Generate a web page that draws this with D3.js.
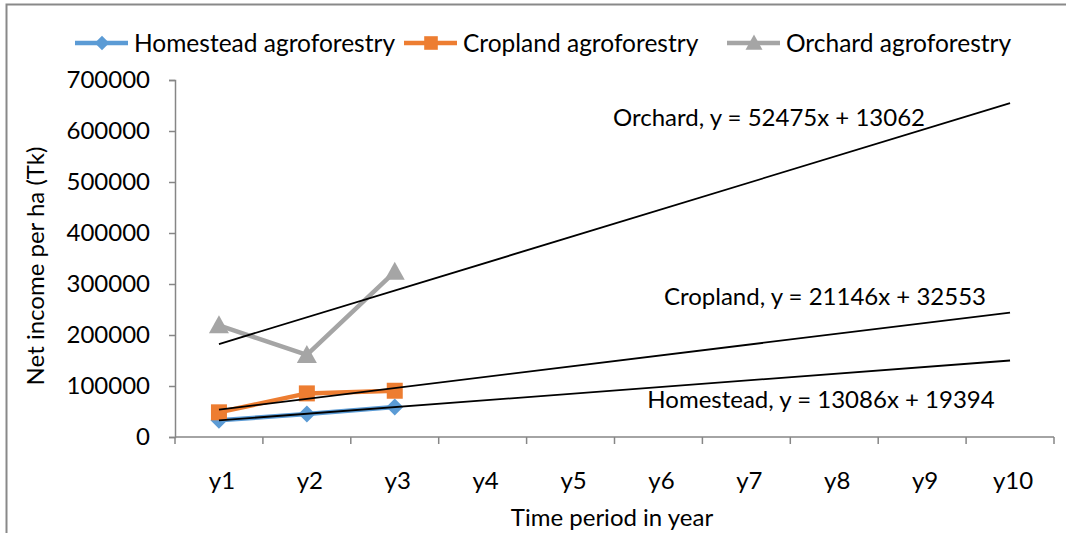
<!DOCTYPE html>
<html>
<head>
<meta charset="utf-8">
<script src="https://cdn.jsdelivr.net/npm/d3@7"></script>
<style>
  body { margin: 0; background: #fff; }
  svg text { font-family: Lato, "Open Sans", sans-serif; fill: #000; }
</style>
</head>
<body>
<div id="vis"></div>
<script>
// Data
const years = ["y1", "y2", "y3", "y4", "y5", "y6", "y7", "y8", "y9", "y10"];
const seriesNames = ["Homestead agroforestry", "Cropland agroforestry", "Orchard agroforestry"];
const homestead = [32800, 45000, 58900];
const cropland = [48400, 85500, 90700];
const orchard = [219000, 161000, 324000];
const yTicks = [0, 100000, 200000, 300000, 400000, 500000, 600000, 700000];
const trendLabels = [
  "Homestead, y = 13086x + 19394",
  "Cropland, y = 21146x + 32553",
  "Orchard, y = 52475x + 13062"
];

const colors = ["#5B9BD5", "#ED7D31", "#A5A5A5"];
const allSeries = [homestead, cropland, orchard];

const W = 1066, H = 533;
const margin = { top: 80, right: 12, bottom: 96, left: 175 };
const width = W - margin.left - margin.right;   // 879
const height = H - margin.top - margin.bottom;  // 357

const svg = d3.select("#vis").append("svg")
  .attr("width", W)
  .attr("height", H);

// chart frame
svg.append("rect")
  .attr("x", 6.5).attr("y", 4.5)
  .attr("width", 1200).attr("height", 800)
  .attr("fill", "none")
  .attr("stroke", "#898989")
  .attr("stroke-width", 2);

const g = svg.append("g")
  .attr("transform", `translate(${margin.left},${margin.top})`);

const x = d3.scaleBand().domain(years).range([0, width]);
const y = d3.scaleLinear().domain([0, 700000]).range([height, 0]);
const cx = i => x(years[i]) + x.bandwidth() / 2;

// y axis
const yAxis = g.append("g")
  .call(d3.axisLeft(y).tickValues(yTicks).tickSize(6).tickPadding(19).tickFormat(d3.format("d")));
yAxis.selectAll("line,path").attr("stroke", "#868686").attr("stroke-width", 1.5);
yAxis.selectAll("text").attr("font-size", "24px").attr("font-family", "Lato, sans-serif");

// x axis with ticks on band boundaries
const xAxis = g.append("g").attr("transform", `translate(0,${height})`);
xAxis.append("line")
  .attr("x1", 0).attr("x2", width)
  .attr("stroke", "#868686").attr("stroke-width", 1.5);
xAxis.selectAll(".tk")
  .data(years.concat(["end"]))
  .join("line")
  .attr("class", "tk")
  .attr("x1", (d, i) => i * x.bandwidth())
  .attr("x2", (d, i) => i * x.bandwidth())
  .attr("y1", 0).attr("y2", 7)
  .attr("stroke", "#868686").attr("stroke-width", 1.5);
xAxis.selectAll(".lbl")
  .data(years)
  .join("text")
  .attr("class", "lbl")
  .attr("x", d => x(d) + x.bandwidth() / 2 + 3)
  .attr("y", 52)
  .attr("text-anchor", "middle")
  .attr("font-size", "24px")
  .text(d => d);

// linear trend lines (least squares on x = 1..n, forecast to y10)
function fit(vals) {
  const xs = vals.map((v, i) => i + 1);
  const mx = d3.mean(xs), my = d3.mean(vals);
  const slope = d3.sum(xs, (xv, i) => (xv - mx) * (vals[i] - my)) / d3.sum(xs, xv => (xv - mx) ** 2);
  return { slope, icpt: my - slope * mx };
}

// markers: diamond is a square turned 45 degrees
function marker(s, k) {
  if (s === 0) { const r = 8.5 * k; return `M0,${-r}L${r},0L0,${r}L${-r},0Z`; }
  if (s === 1) { const r = 8 * k; return `M${-r},${-r}H${r}V${r}H${-r}Z`; }
  const r = 10 * k; return `M0,${-r}L${r},${r * 0.8}L${-r},${r * 0.8}Z`;
}

// series lines and markers
const line = d3.line().x((d, i) => cx(i)).y(d => y(d));

allSeries.forEach((vals, s) => {
  g.append("path")
    .datum(vals)
    .attr("d", line)
    .attr("fill", "none")
    .attr("stroke", colors[s])
    .attr("stroke-width", 4.5)
    .attr("stroke-linejoin", "round");
  g.selectAll(".m" + s)
    .data(vals)
    .join("path")
    .attr("class", "m" + s)
    .attr("transform", (d, i) => `translate(${cx(i)},${y(d)})`)
    .attr("d", marker(s, 1))
    .attr("fill", colors[s]);
});

allSeries.forEach(vals => {
  const f = fit(vals);
  g.append("line")
    .attr("x1", cx(0)).attr("y1", y(f.slope * 1 + f.icpt))
    .attr("x2", cx(years.length - 1)).attr("y2", y(f.slope * years.length + f.icpt))
    .attr("stroke", "#000")
    .attr("stroke-width", 1.8);
});

// trend equation labels
const labelPos = [[821, 408], [825, 305], [769, 126]];
trendLabels.forEach((t, i) => {
  svg.append("text")
    .attr("x", labelPos[i][0]).attr("y", labelPos[i][1])
    .attr("text-anchor", "middle")
    .attr("font-size", "24px")
    .text(t);
});

// axis titles
svg.append("text")
  .attr("x", 612).attr("y", 526)
  .attr("text-anchor", "middle")
  .attr("font-size", "24px")
  .text("Time period in year");

svg.append("text")
  .attr("transform", "translate(44,266) rotate(-90)")
  .attr("text-anchor", "middle")
  .attr("font-size", "24px")
  .text("Net income per ha (Tk)");

// legend
const legX = [75, 404, 727];
const legend = svg.append("g").attr("transform", "translate(0,43)");
seriesNames.forEach((name, s) => {
  const lg = legend.append("g").attr("transform", `translate(${legX[s]},0)`);
  lg.append("line")
    .attr("x1", 0).attr("x2", 53)
    .attr("stroke", colors[s]).attr("stroke-width", 4.5);
  lg.append("path")
    .attr("transform", "translate(27,0)")
    .attr("d", marker(s, 0.85))
    .attr("fill", colors[s]);
  lg.append("text")
    .attr("x", 59).attr("y", 9)
    .attr("font-size", "24.5px")
    .text(name);
});
</script>
</body>
</html>
